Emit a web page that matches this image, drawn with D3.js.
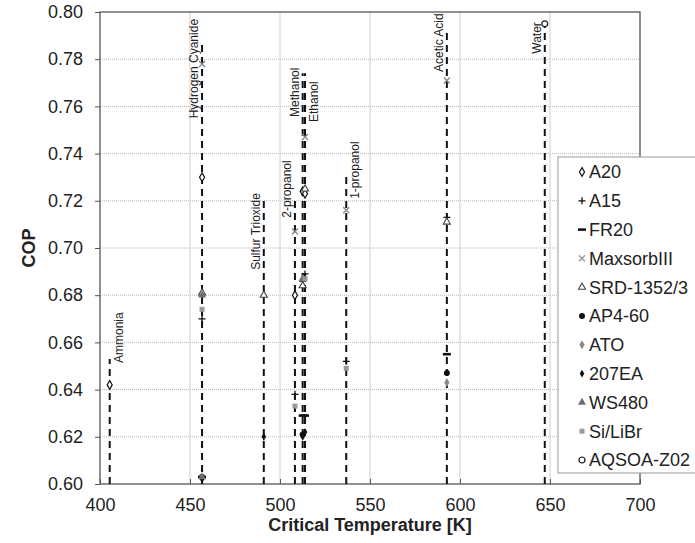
<!DOCTYPE html>
<html><head><meta charset="utf-8">
<script src="https://cdn.jsdelivr.net/npm/d3@7"></script>
<style>body{margin:0;background:#fff;} svg{display:block;font-family:"Liberation Sans",Arial,sans-serif;}</style>
</head><body><svg id="c" width="695" height="543"></svg>
<script>
// ---- data ----
const substances = ["Ammonia","Hydrogen Cyanide","Sulfur Trioxide","2-propanol","Methanol","Ethanol","1-propanol","Acetic Acid","Water"];
const critTemp   = [405.4, 456.7, 491.0, 508.3, 512.6, 513.9, 536.8, 592.7, 647.1];
const lineTop    = [0.653, 0.786, 0.722, 0.722, 0.774, 0.774, 0.731, 0.7915, 0.797];
const labelAt    = [0.662, 0.776, 0.707, 0.725, 0.766, 0.762, 0.733, 0.787, 0.789];
const labelSide  = ["right","left","left","left","left","right","right","left","left"];

const seriesNames = ["A20","A15","FR20","MaxsorbIII","SRD-1352/3","AP4-60","ATO","207EA","WS480","Si/LiBr","AQSOA-Z02"];
// values per series: [substance, COP]
const A20       = [["Ammonia",0.642],["Hydrogen Cyanide",0.730],["2-propanol",0.680],["Methanol",0.724],["Ethanol",0.723]];
const A15       = [["Hydrogen Cyanide",0.670],["2-propanol",0.638],["Methanol",0.686],["Ethanol",0.689],["1-propanol",0.652],["Acetic Acid",0.713]];
const FR20      = [["Hydrogen Cyanide",0.603],["Methanol",0.629],["Ethanol",0.629],["Acetic Acid",0.655]];
const MaxsorbIII= [["Hydrogen Cyanide",0.778],["2-propanol",0.707],["Ethanol",0.747],["1-propanol",0.716],["Acetic Acid",0.771]];
const SRD       = [["Hydrogen Cyanide",0.681],["Sulfur Trioxide",0.680],["Methanol",0.684],["Ethanol",0.725],["Acetic Acid",0.711]];
const AP460     = [["Hydrogen Cyanide",0.603],["Methanol",0.621],["Acetic Acid",0.647]];
const ATO       = [["Acetic Acid",0.643]];
const EA207     = [["Hydrogen Cyanide",0.602],["Sulfur Trioxide",0.620],["Methanol",0.620],["Ethanol",0.622]];
const WS480     = [["Hydrogen Cyanide",0.680],["Hydrogen Cyanide",0.603],["Methanol",0.687]];
const SiLiBr    = [["Hydrogen Cyanide",0.674],["2-propanol",0.633],["Ethanol",0.687],["1-propanol",0.649]];
const AQSOA     = [["Water",0.795]];
const seriesData = [A20,A15,FR20,MaxsorbIII,SRD,AP460,ATO,EA207,WS480,SiLiBr,AQSOA];

const xTicks = [400,450,500,550,600,650,700];
const yTicks = [0.60,0.62,0.64,0.66,0.68,0.70,0.72,0.74,0.76,0.78,0.80];

// ---- layout ----
const svg = d3.select("#c");
const L=100, R=640, T=12, B=484;
const x = d3.scaleLinear().domain([400,700]).range([L,R]);
const y = d3.scaleLinear().domain([0.60,0.80]).range([B,T]);
const tcOf = n => critTemp[substances.indexOf(n)];

// gridlines
svg.append("g").selectAll("line").data(yTicks.slice(1,-1)).join("line")
  .attr("x1",L).attr("x2",R).attr("y1",d=>y(d)).attr("y2",d=>y(d))
  .attr("stroke","#b8b8b8").attr("stroke-width",1).attr("stroke-dasharray","1,1");
svg.append("g").selectAll("line").data(xTicks.slice(1,-1)).join("line")
  .attr("y1",T).attr("y2",B).attr("x1",d=>x(d)).attr("x2",d=>x(d))
  .attr("stroke","#cfcfcf").attr("stroke-width",1);

// axes
const xAxis = svg.append("g").attr("transform",`translate(0,${B})`)
  .call(d3.axisBottom(x).tickValues(xTicks).tickSize(-5).tickPadding(14).tickFormat(d3.format("d")));
const yAxis = svg.append("g").attr("transform",`translate(${L},0)`)
  .call(d3.axisLeft(y).tickValues(yTicks).tickSize(5).tickPadding(12).tickFormat(d3.format(".2f")));
[xAxis,yAxis].forEach(g=>{
  g.select(".domain").remove();
  g.selectAll(".tick line").attr("stroke","#555");
  g.selectAll("text").attr("font-size",18).attr("fill","#222").attr("font-family","Liberation Sans, Arial, sans-serif");
});
svg.append("rect").attr("x",L).attr("y",T).attr("width",R-L).attr("height",B-T)
  .attr("fill","none").attr("stroke","#555").attr("stroke-width",1.3);

// axis titles
svg.append("text").attr("x",(L+R)/2).attr("y",531).attr("text-anchor","middle")
  .attr("font-size",18).attr("font-weight","bold").attr("fill","#222").text("Critical Temperature [K]");
svg.append("text").attr("transform",`translate(35,${(T+B)/2}) rotate(-90)`).attr("text-anchor","middle")
  .attr("font-size",18).attr("font-weight","bold").attr("fill","#222").text("COP");

// substance dashed lines
svg.append("g").selectAll("line").data(substances).join("line")
  .attr("x1",(d,i)=>x(critTemp[i])).attr("x2",(d,i)=>x(critTemp[i]))
  .attr("y1",y(0.60)).attr("y2",(d,i)=>y(lineTop[i]))
  .attr("stroke","#111").attr("stroke-width",2).attr("stroke-dasharray","7,5");

// substance labels
svg.append("g").selectAll("text").data(substances).join("text")
  .attr("transform",(d,i)=>{
    const px = x(critTemp[i]) + (labelSide[i]==="left" ? -4 : 13);
    return `translate(${px},${y(labelAt[i])}) rotate(-90)`;})
  .attr("text-anchor","middle").attr("font-size",12).attr("fill","#222").text(d=>d);

// marker drawers
function marker(g, k){
  switch(k){
    case 0: g.append("path").attr("d",d3.symbol(d3.symbolDiamond,22)()).attr("fill","#fff").attr("stroke","#111").attr("stroke-width",1.2); break;
    case 1: g.append("path").attr("d","M-3.5,0H3.5M0,-3.5V3.5").attr("stroke","#111").attr("stroke-width",1.3); break;
    case 2: g.append("path").attr("d","M-4,0H4").attr("stroke","#111").attr("stroke-width",2.6); break;
    case 3: g.append("path").attr("d","M-3,-3L3,3M-3,3L3,-3").attr("stroke","#888").attr("stroke-width",1.3); break;
    case 4: g.append("path").attr("d",d3.symbol(d3.symbolTriangle,22)()).attr("fill","#fff").attr("stroke","#444").attr("stroke-width",1.1); break;
    case 5: g.append("circle").attr("r",3).attr("fill","#111"); break;
    case 6: g.append("path").attr("d",d3.symbol(d3.symbolDiamond,24)()).attr("fill","#8a8a8a"); break;
    case 7: g.append("path").attr("d",d3.symbol(d3.symbolDiamond,18)()).attr("fill","#111"); break;
    case 8: g.append("path").attr("d",d3.symbol(d3.symbolTriangle,28)()).attr("fill","#6e6e6e"); break;
    case 9: g.append("rect").attr("x",-2.5).attr("y",-2.5).attr("width",5).attr("height",5).attr("fill","#999"); break;
    case 10: g.append("circle").attr("r",3).attr("fill","#fff").attr("stroke","#111").attr("stroke-width",1.2); break;
  }
}

// points
seriesData.forEach((arr,k)=>{
  arr.forEach(([n,v])=>{
    const g = svg.append("g").attr("transform",`translate(${x(tcOf(n))},${y(v)})`);
    marker(g,k);
  });
});

// legend
const LX=558, LY=157, LW=140, LH=316;
svg.append("rect").attr("x",LX).attr("y",LY).attr("width",LW).attr("height",LH)
  .attr("fill","#fff").attr("stroke","#999").attr("stroke-width",1);
const step = 28.8;
seriesNames.forEach((n,k)=>{
  const cy = LY+15+k*step;
  const g = svg.append("g").attr("transform",`translate(${LX+24},${cy})`);
  marker(g,k);
  svg.append("text").attr("x",LX+31).attr("y",cy).attr("dy","0.36em")
    .attr("font-size",18).attr("fill","#222").text(n);
});
</script></body></html>
